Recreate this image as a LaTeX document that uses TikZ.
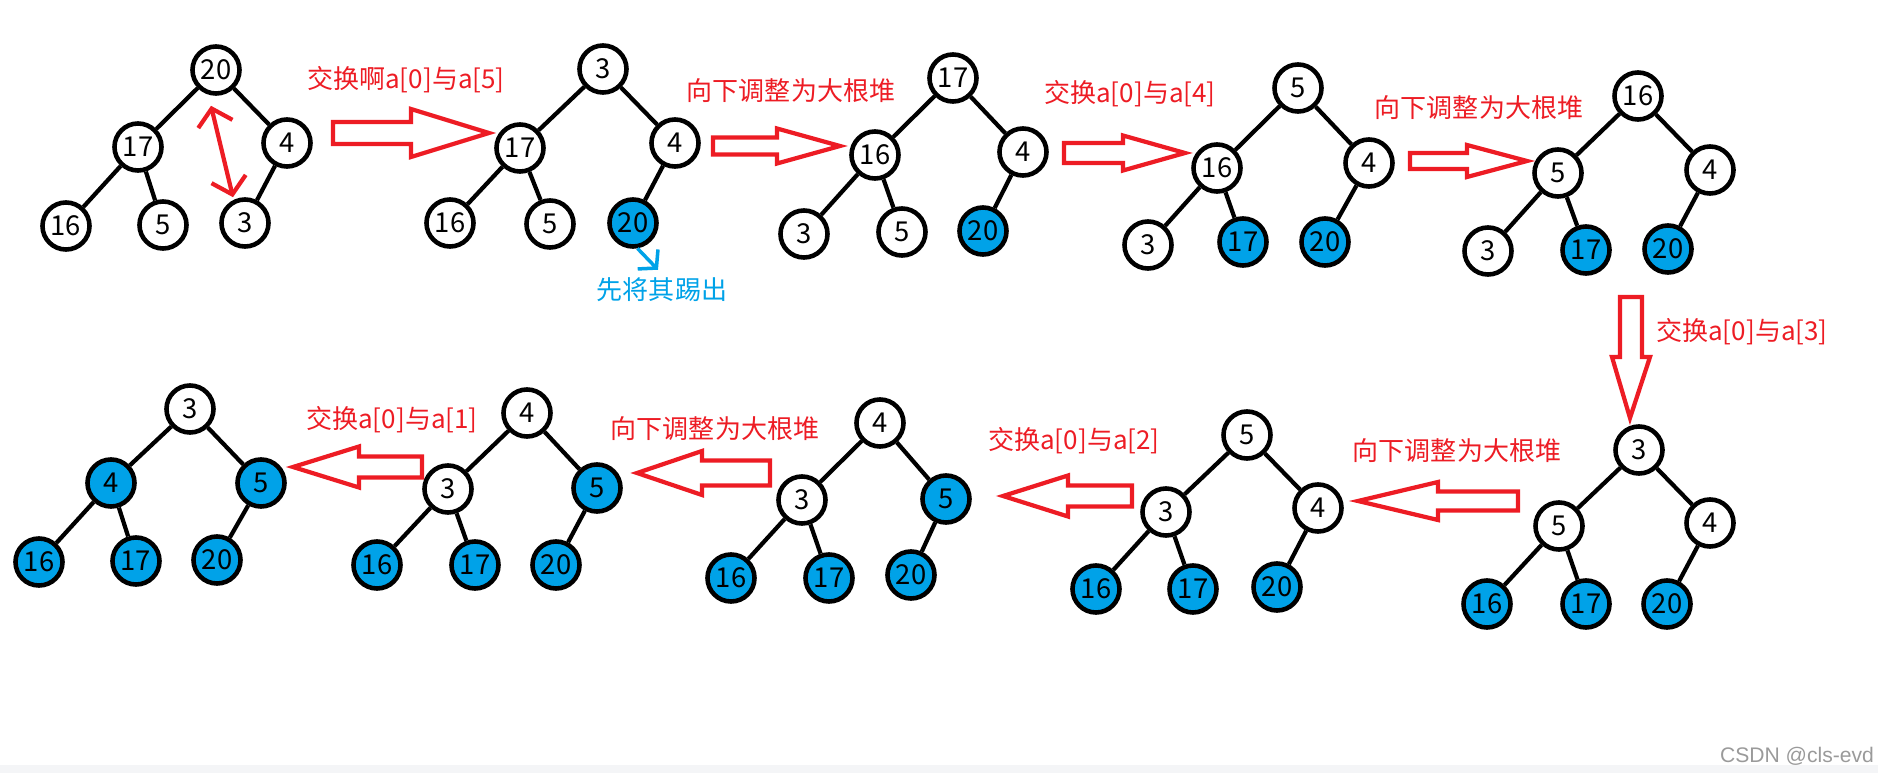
\documentclass[tikz,border=0pt]{standalone}
\usepackage{fontspec}
\newfontfamily\cjk{Noto Sans CJK SC}
\newfontfamily\wmfont{Liberation Sans}
\usetikzlibrary{arrows.meta}
\definecolor{heapred}{HTML}{ED1C24}
\definecolor{heapblue}{HTML}{00A2E8}
\definecolor{markgray}{HTML}{9A9A9A}
\definecolor{bandgray}{HTML}{F4F5F7}

% tail x, head base x, tip x, centre y, half body, half head
\newcommand{\blockarrow}[6]{%
  \draw[hollow] (#1,#4-#5) -- (#2,#4-#5) -- (#2,#4-#6) -- (#3,#4)
    -- (#2,#4+#6) -- (#2,#4+#5) -- (#1,#4+#5) -- cycle;}

\begin{document}
\begin{tikzpicture}[
    x=0.01cm, y=-0.01cm,
    heapnode/.style={circle, draw, line width=1.3pt, fill=white, minimum size=0.47cm,
      inner sep=0pt, font=\cjk\fontsize{7.8}{8}\selectfont},
    outnode/.style={heapnode, fill=heapblue},
    edge/.style={line width=1.2pt},
    hollow/.style={draw=heapred, line width=1.2pt, fill=white, line join=miter},
    lbl/.style={text=heapred, inner sep=1pt, font=\cjk\fontsize{7.4}{9}\selectfont},
    swaparrow/.style={{Straight Barb[length=4.5pt,width=10pt]}-{Straight Barb[length=4.5pt,width=10pt]},
      draw=heapred, line width=1.2pt, line cap=round},
    kickarrow/.style={-{Straight Barb[length=3.5pt,width=8pt]}, draw=heapblue, line width=1pt}
]
    \useasboundingbox (0,0) rectangle (1878,773);
    \fill[bandgray] (0,765) rectangle (1878,773);

    \node[heapnode] (t1-a) at (216,70) {20};
    \node[heapnode] (t1-b) at (138,147) {17};
    \node[heapnode] (t1-c) at (287,143) {4};
    \node[heapnode] (t1-d) at (66,226) {16};
    \node[heapnode] (t1-e) at (163,225) {5};
    \node[heapnode] (t1-f) at (245,223) {3};

    \node[heapnode] (t2-a) at (603,69) {3};
    \node[heapnode] (t2-b) at (520,148) {17};
    \node[heapnode] (t2-c) at (675,143) {4};
    \node[heapnode] (t2-d) at (450,223) {16};
    \node[heapnode] (t2-e) at (550,224) {5};
    \node[outnode] (t2-f) at (633,223) {20};

    \node[heapnode] (t3-a) at (953,78) {17};
    \node[heapnode] (t3-b) at (875,155) {16};
    \node[heapnode] (t3-c) at (1023,152) {4};
    \node[heapnode] (t3-d) at (804,234) {3};
    \node[heapnode] (t3-e) at (902,232) {5};
    \node[outnode] (t3-f) at (983,231) {20};

    \node[heapnode] (t4-a) at (1298,88) {5};
    \node[heapnode] (t4-b) at (1217,168) {16};
    \node[heapnode] (t4-c) at (1369,163) {4};
    \node[heapnode] (t4-d) at (1148,245) {3};
    \node[outnode] (t4-e) at (1243,242) {17};
    \node[outnode] (t4-f) at (1325,242) {20};

    \node[heapnode] (t5-a) at (1638,96) {16};
    \node[heapnode] (t5-b) at (1558,173) {5};
    \node[heapnode] (t5-c) at (1710,170) {4};
    \node[heapnode] (t5-d) at (1488,251) {3};
    \node[outnode] (t5-e) at (1586,250) {17};
    \node[outnode] (t5-f) at (1668,249) {20};

    \node[heapnode] (t6-a) at (1639,450) {3};
    \node[heapnode] (t6-b) at (1559,526) {5};
    \node[heapnode] (t6-c) at (1710,523) {4};
    \node[outnode] (t6-d) at (1487,604) {16};
    \node[outnode] (t6-e) at (1586,604) {17};
    \node[outnode] (t6-f) at (1667,604) {20};

    \node[heapnode] (t7-a) at (1247,435) {5};
    \node[heapnode] (t7-b) at (1166,512) {3};
    \node[heapnode] (t7-c) at (1318,508) {4};
    \node[outnode] (t7-d) at (1096,589) {16};
    \node[outnode] (t7-e) at (1193,589) {17};
    \node[outnode] (t7-f) at (1277,587) {20};

    \node[heapnode] (t8-a) at (880,423) {4};
    \node[heapnode] (t8-b) at (802,500) {3};
    \node[outnode] (t8-c) at (946,499) {5};
    \node[outnode] (t8-d) at (731,578) {16};
    \node[outnode] (t8-e) at (829,578) {17};
    \node[outnode] (t8-f) at (911,575) {20};

    \node[heapnode] (t9-a) at (527,413) {4};
    \node[heapnode] (t9-b) at (448,489) {3};
    \node[outnode] (t9-c) at (597,488) {5};
    \node[outnode] (t9-d) at (377,565) {16};
    \node[outnode] (t9-e) at (475,565) {17};
    \node[outnode] (t9-f) at (556,565) {20};

    \node[heapnode] (t10-a) at (190,409) {3};
    \node[outnode] (t10-b) at (111,483) {4};
    \node[outnode] (t10-c) at (261,483) {5};
    \node[outnode] (t10-d) at (39,562) {16};
    \node[outnode] (t10-e) at (136,561) {17};
    \node[outnode] (t10-f) at (217,560) {20};

    \foreach \t in {1,...,10}
        \draw[edge] (t\t-a) -- (t\t-b) (t\t-a) -- (t\t-c) (t\t-b) -- (t\t-d)
            (t\t-b) -- (t\t-e) (t\t-c) -- (t\t-f);

    \blockarrow{333}{411}{489}{133}{11}{24}
    \blockarrow{713}{777}{840}{146}{8.5}{17.5}
    \blockarrow{1064}{1123}{1185}{153}{10}{17.5}
    \blockarrow{1410}{1467}{1527}{161}{8}{16}
    \draw[hollow] (1620,297) -- (1642,297) -- (1642,357) -- (1650,357) -- (1630,418)
        -- (1612,357) -- (1620,357) -- cycle;
    \blockarrow{1518}{1438}{1358}{501}{9.5}{19}
    \blockarrow{1132}{1068}{1003}{496}{10.5}{20.5}
    \blockarrow{770}{702}{637}{473}{12.5}{22}
    \blockarrow{422}{359}{293}{467}{10.5}{20.5}

    \node[lbl] (swap5) at (406,80) {交换啊a[0]与a[5]};
    \node[lbl] (adjust1) at (791,91) {向下调整为大根堆};
    \node[lbl] (swap4) at (1130,94) {交换a[0]与a[4]};
    \node[lbl] (adjust2) at (1479,108) {向下调整为大根堆};
    \node[lbl] (swap3) at (1742,332) {交换a[0]与a[3]};
    \node[lbl] (adjust3) at (1457,451) {向下调整为大根堆};
    \node[lbl] (swap2) at (1074,441) {交换a[0]与a[2]};
    \node[lbl] (adjust4) at (715,429) {向下调整为大根堆};
    \node[lbl] (swap1) at (392,420) {交换a[0]与a[1]};
    \node[lbl, text=heapblue] (kick) at (662,290) {先将其踢出};

    \draw[swaparrow] ([shift={(-5,10)}]t1-a.south) -- ([shift={(-12,0)}]t1-f.north);
    \draw[kickarrow] (t2-f.-80) -- ([shift={(-4,-4)}]kick.north);

    \node[text=markgray, inner sep=0pt, font=\wmfont\fontsize{6}{7}\selectfont] (mark)
        at (1797,756) {CSDN @cls-evd};
\end{tikzpicture}
\end{document}
